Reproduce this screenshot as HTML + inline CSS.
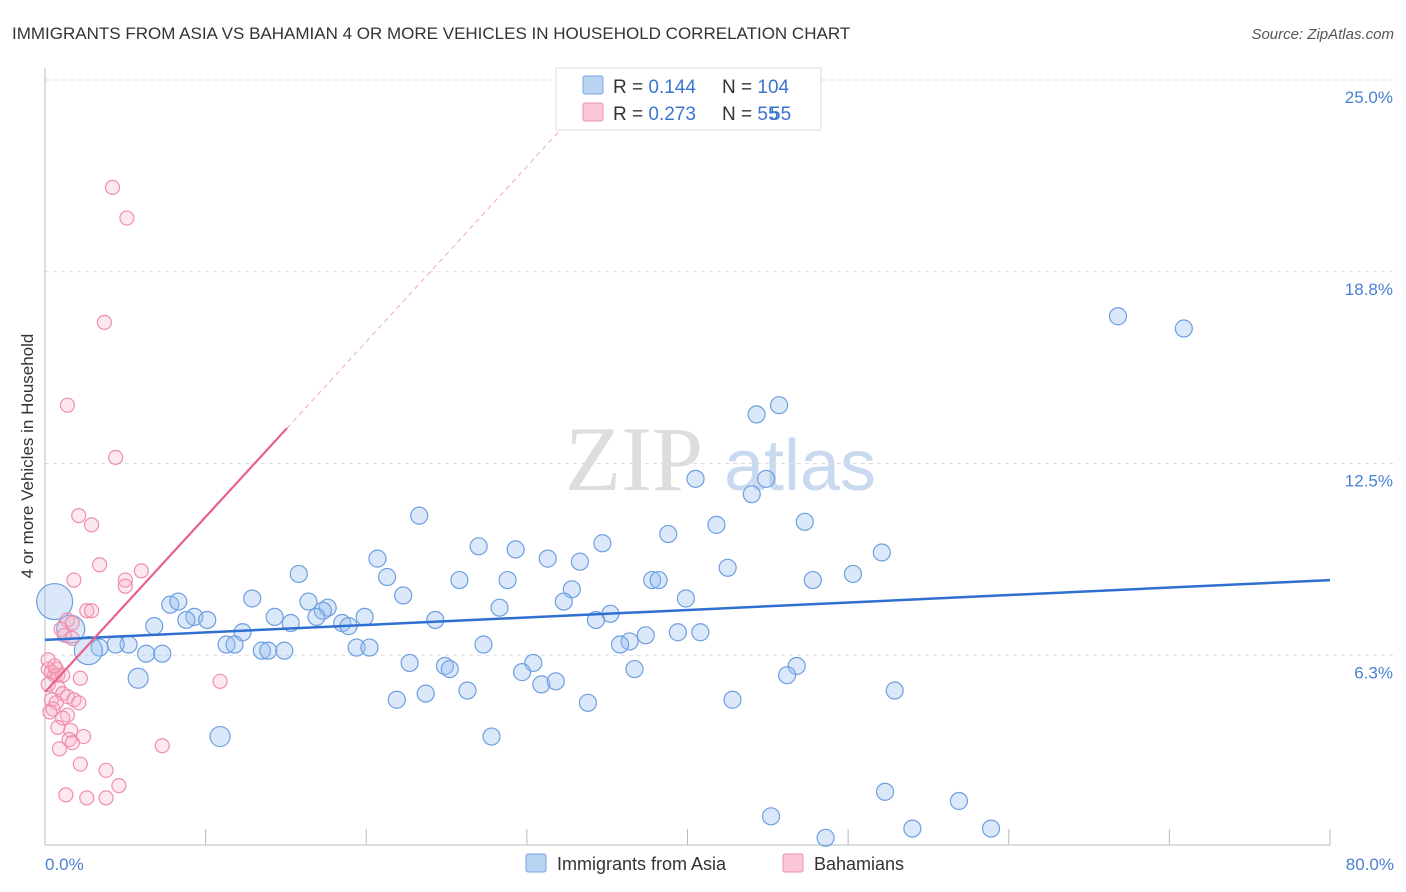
<!DOCTYPE html>
<html><head><meta charset="utf-8"><style>
html,body{margin:0;padding:0;background:#fff;width:1406px;height:892px;overflow:hidden;font-family:"Liberation Sans",sans-serif}
</style></head><body>
<svg width="1406" height="892" xmlns="http://www.w3.org/2000/svg">
<text x="12" y="39" font-size="17" fill="#333">IMMIGRANTS FROM ASIA VS BAHAMIAN 4 OR MORE VEHICLES IN HOUSEHOLD CORRELATION CHART</text>
<text x="1394" y="39" font-size="15" fill="#555" text-anchor="end" font-style="italic">Source: ZipAtlas.com</text>
<g>
<text x="634" y="490" font-size="92" fill="#ddd" font-family="Liberation Serif,serif" text-anchor="middle">ZIP</text>
<text x="800" y="490" font-size="72" fill="#c9daf0" text-anchor="middle">atlas</text>
</g>
<g id="grid"></g>
<g id="axes"></g>
<g id="marks"></g>
<text x="33" y="456" font-size="17" fill="#333" text-anchor="middle" transform="rotate(-90 33 456)">4 or more Vehicles in Household</text>
<text x="45" y="870" font-size="17" fill="#4a7fd4">0.0%</text>
<text x="1394" y="870" font-size="17" fill="#4a7fd4" text-anchor="end">80.0%</text>
<g>
<rect x="556" y="68" width="265" height="62" fill="#fff" stroke="#ddd"/>
<rect x="583" y="76" width="20" height="18" fill="#b9d3f3" stroke="#7aa6e0" rx="2"/>
<rect x="583" y="103" width="20" height="18" fill="#fbc7d6" stroke="#ee92ae" rx="2"/>
<text x="613" y="93" font-size="19" fill="#333">R = <tspan fill="#3a74d0">0.144</tspan></text>
<text x="722" y="93" font-size="19" fill="#333">N = <tspan fill="#3a74d0">104</tspan></text>
<text x="613" y="120" font-size="19" fill="#333">R = <tspan fill="#3a74d0">0.273</tspan></text>
<text x="722" y="120" font-size="19" fill="#333">N = <tspan fill="#3a74d0">  55</tspan></text>
<text x="770" y="120" font-size="19" fill="#3a74d0">55</text>
</g>
<g>
<rect x="526" y="854" width="20" height="18" fill="#b9d3f3" stroke="#7aa6e0" rx="2"/>
<text x="557" y="870" font-size="18" fill="#333">Immigrants from Asia</text>
<rect x="783" y="854" width="20" height="18" fill="#fbc7d6" stroke="#ee92ae" rx="2"/>
<text x="814" y="870" font-size="18" fill="#333">Bahamians</text>
</g>
</svg>
<script>
const yTicks=[25,18.75,12.5,6.25];
const yTickLabels=["25.0%","18.8%","12.5%","6.3%"];
const xTicks=[0,10,20,30,40,50,60,70,80];
const blueX=[66.8,70.9,44.3,45.7,40.5,44.9,44.0,23.3,41.8,47.3,38.8,34.7,27.0,29.3,31.3,33.3,20.7,52.1,42.5,50.3,15.8,21.3,25.8,28.8,37.8,38.2,47.8,32.8,22.3,39.9,12.9,7.8,8.3,16.4,28.3,32.3,35.2,14.3,17.6,17.3,9.3,8.8,10.1,19.9,24.3,34.3,15.3,16.9,18.5,18.9,6.8,12.3,39.4,40.8,37.4,36.4,35.8,27.3,11.3,11.8,13.5,13.9,14.9,19.4,20.2,6.3,7.3,5.2,4.4,3.4,2.7,1.6,0.6,22.7,24.9,25.2,30.4,29.7,36.7,46.8,46.2,5.8,30.9,31.8,26.3,52.9,21.9,23.7,33.8,42.8,10.9,27.8,52.3,56.9,45.2,54.0,58.9,48.6];
const blueY=[17.3,16.9,14.1,14.4,12.0,12.0,11.5,10.8,10.5,10.6,10.2,9.9,9.8,9.7,9.4,9.3,9.4,9.6,9.1,8.9,8.9,8.8,8.7,8.7,8.7,8.7,8.7,8.4,8.2,8.1,8.1,7.9,8.0,8.0,7.8,8.0,7.6,7.5,7.8,7.7,7.5,7.4,7.4,7.5,7.4,7.4,7.3,7.5,7.3,7.2,7.2,7.0,7.0,7.0,6.9,6.7,6.6,6.6,6.6,6.6,6.4,6.4,6.4,6.5,6.5,6.3,6.3,6.6,6.6,6.5,6.4,7.1,8.0,6.0,5.9,5.8,6.0,5.7,5.8,5.9,5.6,5.5,5.3,5.4,5.1,5.1,4.8,5.0,4.7,4.8,3.6,3.6,1.8,1.5,1.0,0.6,0.6,0.3];
const pinkX=[4.2,5.1,3.7,1.4,4.4,2.1,2.9,3.4,1.8,5.0,5.0,6.0,2.6,2.9,1.4,1.7,1.0,1.2,1.7,0.7,0.2,0.4,0.6,0.8,1.1,2.2,0.2,0.8,1.1,1.4,0.4,0.7,1.8,2.1,0.5,0.3,1.4,1.1,1.6,0.8,2.4,1.5,1.7,0.9,7.3,2.2,3.8,4.6,1.3,2.6,3.8,10.9,0.2,0.6];
const pinkY=[21.5,20.5,17.1,14.4,12.7,10.8,10.5,9.2,8.7,8.7,8.5,9.0,7.7,7.7,7.4,7.3,7.1,6.9,6.8,5.8,5.8,5.7,5.6,5.6,5.6,5.5,5.3,5.2,5.0,4.9,4.8,4.7,4.8,4.7,4.5,4.4,4.3,4.2,3.8,3.9,3.6,3.5,3.4,3.2,3.3,2.7,2.5,2.0,1.7,1.6,1.6,5.4,6.1,5.9];
const blueTrend=[6.75,8.7];
const pinkTrend=[5.05,0.571];
const NS="http://www.w3.org/2000/svg";
const X=v=>45+v*(1285/80), Y=v=>847-v*30.68;
function mk(p,t,a){const e=document.createElementNS(NS,t);for(const k in a)e.setAttribute(k,a[k]);p.appendChild(e);return e;}
const grid=document.getElementById('grid'),axes=document.getElementById('axes'),marks=document.getElementById('marks');
yTicks.forEach((v,i)=>{
 const l=mk(grid,'line',{x1:45,x2:1394,y1:Y(v),y2:Y(v),stroke:'#ddd','stroke-dasharray':'4 4'});
 
 
 const t=mk(grid,'text',{x:1393,y:Y(v)+23,'font-size':17,fill:'#4a7fd4','text-anchor':'end'});
 t.textContent=yTickLabels[i];
 
 
});
const ax=mk(axes,'line',{x1:45,x2:1330,y1:845,y2:845,stroke:'#bbb'});


const ay=mk(axes,'line',{x1:45,x2:45,y1:68,y2:845,stroke:'#bbb'});


xTicks.forEach(v=>{
 const t=mk(axes,'line',{x1:X(v),x2:X(v),y1:829,y2:845,stroke:'#bbb'});
 
 
});
blueX.forEach((x,i)=>{
 let r=8.5; if(x<1)r=18; else if(x<2)r=14; else if(x<3)r=14; else if(i===81||i===90)r=10;
 const c=mk(marks,'circle',{cx:X(x),cy:Y(blueY[i]),r:r,fill:'rgba(150,190,240,0.35)',stroke:'#6f9fe0','stroke-width':1.2});
 
 
});
pinkX.forEach((x,i)=>{
 const c=mk(marks,'circle',{cx:X(x),cy:Y(pinkY[i]),r:7,fill:'rgba(250,180,200,0.3)',stroke:'#ef8fad','stroke-width':1.2});
 
 
});
const bl=mk(marks,'line',{x1:X(0),x2:X(80),y1:Y(blueTrend[0]),y2:Y(blueTrend[1]),stroke:'#2f6fd0','stroke-width':2.5});


const pl=mk(marks,'line',{x1:X(0),x2:X(15.07),y1:Y(pinkTrend[0]),y2:Y(pinkTrend[0]+pinkTrend[1]*15.07),stroke:'#e8608c','stroke-width':2.2});


const pd=mk(marks,'line',{x1:X(15.07),x2:X(32.4),y1:Y(pinkTrend[0]+pinkTrend[1]*15.07),y2:Y(pinkTrend[0]+pinkTrend[1]*32.4),stroke:'#f0a8bf','stroke-width':1,'stroke-dasharray':'5 4'});


</script>
</body></html>
